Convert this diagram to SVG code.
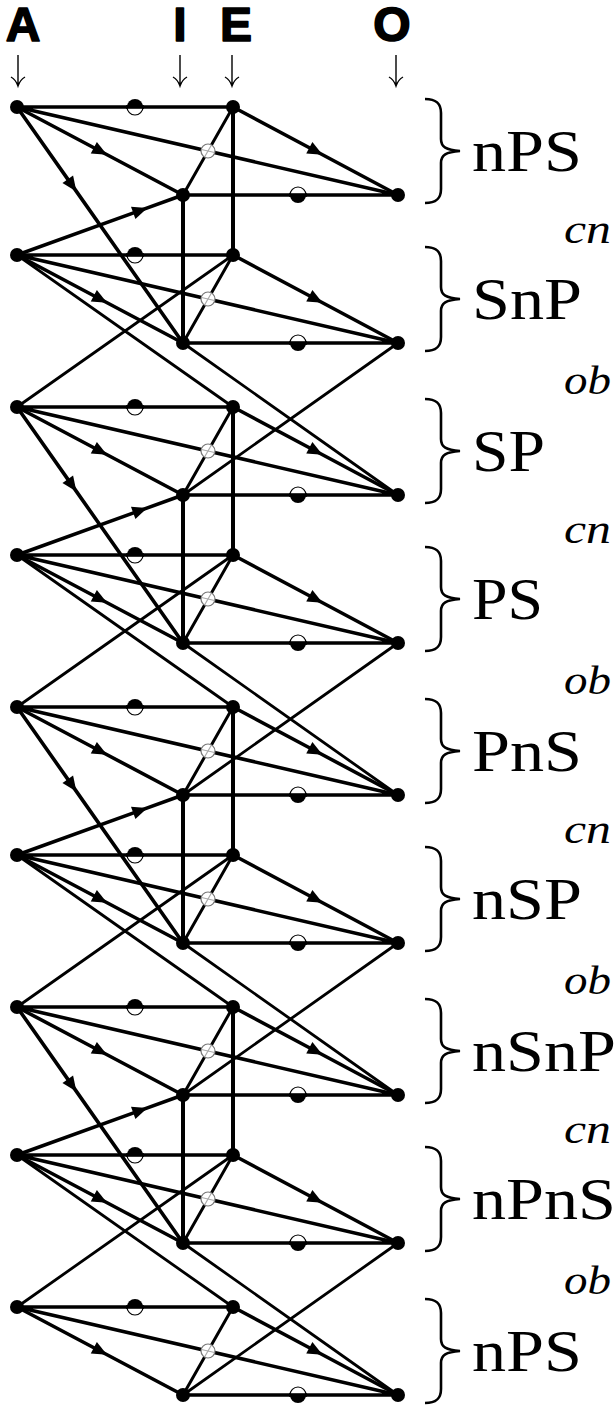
<svg xmlns="http://www.w3.org/2000/svg" width="616" height="1405" viewBox="0 0 616 1405">
<style>
.ln{stroke:#000;stroke-width:3.6;fill:none;stroke-linecap:round}
.ei{stroke:#000;stroke-width:3;fill:none;stroke-linecap:round}
.vt{stroke:#000;stroke-width:4;fill:none}
.ob{stroke:#000;stroke-width:2.8;fill:none;stroke-linecap:round}
.arr{marker-mid:url(#ah)}
.nd{fill:#000}
.hd{font-family:"Liberation Sans",Arial,sans-serif;font-weight:bold;font-size:48px;text-anchor:middle;fill:#000;stroke:#000;stroke-width:1.6;stroke-linejoin:round}
.dn{stroke:#000;stroke-width:1.4;fill:none}
.br{stroke:#000;stroke-width:2.6;fill:none}
.lb{font-family:"Liberation Serif","Times New Roman",serif;font-size:60px;fill:#000}
.it{font-family:"Liberation Serif","Times New Roman",serif;font-style:italic;font-size:40px;fill:#000}
</style>
<defs>
<marker id="ah" markerUnits="userSpaceOnUse" markerWidth="24" markerHeight="24" viewBox="-12 -12 24 24" refX="0" refY="0" orient="auto">
<path d="M-7,-6.5 L8,0 L-7,6.5 Z" fill="#000"/>
</marker>
<g id="hTop">
<path d="M-8,0 A8,8 0 0 0 8,0 Z" fill="#fff" stroke="#000" stroke-width="1.2"/>
<path d="M-8,0 A8,8 0 0 1 8,0 Z" fill="#000"/>
<path d="M-9,0 H9" stroke="#000" stroke-width="3.6"/>
</g>
<g id="hBot">
<path d="M-8,0 A8,8 0 0 1 8,0 Z" fill="#fff" stroke="#000" stroke-width="1.2"/>
<path d="M-8,0 A8,8 0 0 0 8,0 Z" fill="#000"/>
<path d="M-9,0 H9" stroke="#000" stroke-width="3.6"/>
</g>
<g id="xc">
<circle r="7" fill="#fff" stroke="#777" stroke-width="1.2"/>
<path d="M-6.5,-1.5 L6.5,1.5 M3.3,-5.8 L-3.3,5.8" stroke="#aaa" stroke-width="1.2"/>
</g>
</defs>

<g id="headers">
<text class="hd" x="23" y="41">A</text>
<text class="hd" x="180" y="41">I</text>
<text class="hd" x="236" y="41">E</text>
<text class="hd" x="392" y="41">O</text>
<path class="dn" d="M18,55 V86 M11,77 Q16,80 18,86 Q20,80 25,77"/>
<path class="dn" d="M180,55 V86 M173,77 Q178,80 180,86 Q182,80 187,77"/>
<path class="dn" d="M232,55 V86 M225,77 Q230,80 232,86 Q234,80 239,77"/>
<path class="dn" d="M396,55 V86 M389,77 Q394,80 396,86 Q398,80 403,77"/>
</g>

<g id="connectors">
<path class="vt" d="M233,107 V255 M183,195 V343"/>
<path class="ln arr" d="M17,107 L71.8,184.9 L183,343"/>
<path class="ln arr" d="M17,255 L139.8,210.6 L183,195"/>
<path class="vt" d="M233,407 V555 M183,495 V643"/>
<path class="ln arr" d="M17,407 L71.8,484.9 L183,643"/>
<path class="ln arr" d="M17,555 L139.8,510.6 L183,495"/>
<path class="vt" d="M233,707 V855 M183,795 V943"/>
<path class="ln arr" d="M17,707 L71.8,784.9 L183,943"/>
<path class="ln arr" d="M17,855 L139.8,810.6 L183,795"/>
<path class="vt" d="M233,1007 V1155 M183,1095 V1243"/>
<path class="ln arr" d="M17,1007 L71.8,1084.9 L183,1243"/>
<path class="ln arr" d="M17,1155 L139.8,1110.6 L183,1095"/>
<path class="ob" d="M17,255 L233,407 M183,343 L398,495 M17,407 L233,255 M398,343 L183,495"/>
<path class="ob" d="M17,555 L233,707 M183,643 L398,795 M17,707 L233,555 M398,643 L183,795"/>
<path class="ob" d="M17,855 L233,1007 M183,943 L398,1095 M17,1007 L233,855 M398,943 L183,1095"/>
<path class="ob" d="M17,1155 L233,1307 M183,1243 L398,1395 M17,1307 L233,1155 M398,1243 L183,1395"/>
<path class="ln" d="M17,107 H233 M183,195 H398 M17,107 L398,195"/><path class="ei" d="M233,107 L183,195"/>
<path class="ln arr" d="M17,107 L100,151 L183,195"/><path class="ln arr" d="M233,107 L315.5,151 L398,195"/>
<path class="ln" d="M17,255 H233 M183,343 H398 M17,255 L398,343"/><path class="ei" d="M233,255 L183,343"/>
<path class="ln arr" d="M17,255 L100,299 L183,343"/><path class="ln arr" d="M233,255 L315.5,299 L398,343"/>
<path class="ln" d="M17,407 H233 M183,495 H398 M17,407 L398,495"/><path class="ei" d="M233,407 L183,495"/>
<path class="ln arr" d="M17,407 L100,451 L183,495"/><path class="ln arr" d="M233,407 L315.5,451 L398,495"/>
<path class="ln" d="M17,555 H233 M183,643 H398 M17,555 L398,643"/><path class="ei" d="M233,555 L183,643"/>
<path class="ln arr" d="M17,555 L100,599 L183,643"/><path class="ln arr" d="M233,555 L315.5,599 L398,643"/>
<path class="ln" d="M17,707 H233 M183,795 H398 M17,707 L398,795"/><path class="ei" d="M233,707 L183,795"/>
<path class="ln arr" d="M17,707 L100,751 L183,795"/><path class="ln arr" d="M233,707 L315.5,751 L398,795"/>
<path class="ln" d="M17,855 H233 M183,943 H398 M17,855 L398,943"/><path class="ei" d="M233,855 L183,943"/>
<path class="ln arr" d="M17,855 L100,899 L183,943"/><path class="ln arr" d="M233,855 L315.5,899 L398,943"/>
<path class="ln" d="M17,1007 H233 M183,1095 H398 M17,1007 L398,1095"/><path class="ei" d="M233,1007 L183,1095"/>
<path class="ln arr" d="M17,1007 L100,1051 L183,1095"/><path class="ln arr" d="M233,1007 L315.5,1051 L398,1095"/>
<path class="ln" d="M17,1155 H233 M183,1243 H398 M17,1155 L398,1243"/><path class="ei" d="M233,1155 L183,1243"/>
<path class="ln arr" d="M17,1155 L100,1199 L183,1243"/><path class="ln arr" d="M233,1155 L315.5,1199 L398,1243"/>
<path class="ln" d="M17,1307 H233 M183,1395 H398 M17,1307 L398,1395"/><path class="ei" d="M233,1307 L183,1395"/>
<path class="ln arr" d="M17,1307 L100,1351 L183,1395"/><path class="ln arr" d="M233,1307 L315.5,1351 L398,1395"/>
</g>

<g id="edge-markers">
<use href="#hTop" x="135" y="107"/><use href="#hBot" x="298" y="195"/><use href="#xc" x="208" y="151"/>
<use href="#hTop" x="135" y="255"/><use href="#hBot" x="298" y="343"/><use href="#xc" x="208" y="299"/>
<use href="#hTop" x="135" y="407"/><use href="#hBot" x="298" y="495"/><use href="#xc" x="208" y="451"/>
<use href="#hTop" x="135" y="555"/><use href="#hBot" x="298" y="643"/><use href="#xc" x="208" y="599"/>
<use href="#hTop" x="135" y="707"/><use href="#hBot" x="298" y="795"/><use href="#xc" x="208" y="751"/>
<use href="#hTop" x="135" y="855"/><use href="#hBot" x="298" y="943"/><use href="#xc" x="208" y="899"/>
<use href="#hTop" x="135" y="1007"/><use href="#hBot" x="298" y="1095"/><use href="#xc" x="208" y="1051"/>
<use href="#hTop" x="135" y="1155"/><use href="#hBot" x="298" y="1243"/><use href="#xc" x="208" y="1199"/>
<use href="#hTop" x="135" y="1307"/><use href="#hBot" x="298" y="1395"/><use href="#xc" x="208" y="1351"/>
</g>

<g id="node-A1"><circle class="nd" cx="17" cy="107" r="7"/></g>
<g id="node-E1"><circle class="nd" cx="233" cy="107" r="7"/></g>
<g id="node-I1"><circle class="nd" cx="183" cy="195" r="7"/></g>
<g id="node-O1"><circle class="nd" cx="398" cy="195" r="7"/></g>
<g id="node-A2"><circle class="nd" cx="17" cy="255" r="7"/></g>
<g id="node-E2"><circle class="nd" cx="233" cy="255" r="7"/></g>
<g id="node-I2"><circle class="nd" cx="183" cy="343" r="7"/></g>
<g id="node-O2"><circle class="nd" cx="398" cy="343" r="7"/></g>
<g id="node-A3"><circle class="nd" cx="17" cy="407" r="7"/></g>
<g id="node-E3"><circle class="nd" cx="233" cy="407" r="7"/></g>
<g id="node-I3"><circle class="nd" cx="183" cy="495" r="7"/></g>
<g id="node-O3"><circle class="nd" cx="398" cy="495" r="7"/></g>
<g id="node-A4"><circle class="nd" cx="17" cy="555" r="7"/></g>
<g id="node-E4"><circle class="nd" cx="233" cy="555" r="7"/></g>
<g id="node-I4"><circle class="nd" cx="183" cy="643" r="7"/></g>
<g id="node-O4"><circle class="nd" cx="398" cy="643" r="7"/></g>
<g id="node-A5"><circle class="nd" cx="17" cy="707" r="7"/></g>
<g id="node-E5"><circle class="nd" cx="233" cy="707" r="7"/></g>
<g id="node-I5"><circle class="nd" cx="183" cy="795" r="7"/></g>
<g id="node-O5"><circle class="nd" cx="398" cy="795" r="7"/></g>
<g id="node-A6"><circle class="nd" cx="17" cy="855" r="7"/></g>
<g id="node-E6"><circle class="nd" cx="233" cy="855" r="7"/></g>
<g id="node-I6"><circle class="nd" cx="183" cy="943" r="7"/></g>
<g id="node-O6"><circle class="nd" cx="398" cy="943" r="7"/></g>
<g id="node-A7"><circle class="nd" cx="17" cy="1007" r="7"/></g>
<g id="node-E7"><circle class="nd" cx="233" cy="1007" r="7"/></g>
<g id="node-I7"><circle class="nd" cx="183" cy="1095" r="7"/></g>
<g id="node-O7"><circle class="nd" cx="398" cy="1095" r="7"/></g>
<g id="node-A8"><circle class="nd" cx="17" cy="1155" r="7"/></g>
<g id="node-E8"><circle class="nd" cx="233" cy="1155" r="7"/></g>
<g id="node-I8"><circle class="nd" cx="183" cy="1243" r="7"/></g>
<g id="node-O8"><circle class="nd" cx="398" cy="1243" r="7"/></g>
<g id="node-A9"><circle class="nd" cx="17" cy="1307" r="7"/></g>
<g id="node-E9"><circle class="nd" cx="233" cy="1307" r="7"/></g>
<g id="node-I9"><circle class="nd" cx="183" cy="1395" r="7"/></g>
<g id="node-O9"><circle class="nd" cx="398" cy="1395" r="7"/></g>

<g id="label-1"><path class="br" d="M425,99 C436,99 441,103 441,113 L441,139 C441,147 446,150 460,151 C446,152 441,155 441,163 L441,189 C441,199 436,203 425,203"/><text class="lb" x="472" y="171" textLength="110" lengthAdjust="spacingAndGlyphs">nPS</text></g>
<g id="rel-1"><text class="it" x="564" y="243" textLength="47" lengthAdjust="spacingAndGlyphs">cn</text></g>
<g id="label-2"><path class="br" d="M425,247 C436,247 441,251 441,261 L441,287 C441,295 446,298 460,299 C446,300 441,303 441,311 L441,337 C441,347 436,351 425,351"/><text class="lb" x="472" y="319" textLength="110" lengthAdjust="spacingAndGlyphs">SnP</text></g>
<g id="rel-2"><text class="it" x="564" y="394" textLength="47" lengthAdjust="spacingAndGlyphs">ob</text></g>
<g id="label-3"><path class="br" d="M425,399 C436,399 441,403 441,413 L441,439 C441,447 446,450 460,451 C446,452 441,455 441,463 L441,489 C441,499 436,503 425,503"/><text class="lb" x="472" y="471" textLength="73" lengthAdjust="spacingAndGlyphs">SP</text></g>
<g id="rel-3"><text class="it" x="564" y="543" textLength="47" lengthAdjust="spacingAndGlyphs">cn</text></g>
<g id="label-4"><path class="br" d="M425,547 C436,547 441,551 441,561 L441,587 C441,595 446,598 460,599 C446,600 441,603 441,611 L441,637 C441,647 436,651 425,651"/><text class="lb" x="472" y="619" textLength="71" lengthAdjust="spacingAndGlyphs">PS</text></g>
<g id="rel-4"><text class="it" x="564" y="694" textLength="47" lengthAdjust="spacingAndGlyphs">ob</text></g>
<g id="label-5"><path class="br" d="M425,699 C436,699 441,703 441,713 L441,739 C441,747 446,750 460,751 C446,752 441,755 441,763 L441,789 C441,799 436,803 425,803"/><text class="lb" x="472" y="771" textLength="110" lengthAdjust="spacingAndGlyphs">PnS</text></g>
<g id="rel-5"><text class="it" x="564" y="843" textLength="47" lengthAdjust="spacingAndGlyphs">cn</text></g>
<g id="label-6"><path class="br" d="M425,847 C436,847 441,851 441,861 L441,887 C441,895 446,898 460,899 C446,900 441,903 441,911 L441,937 C441,947 436,951 425,951"/><text class="lb" x="472" y="919" textLength="110" lengthAdjust="spacingAndGlyphs">nSP</text></g>
<g id="rel-6"><text class="it" x="564" y="994" textLength="47" lengthAdjust="spacingAndGlyphs">ob</text></g>
<g id="label-7"><path class="br" d="M425,999 C436,999 441,1003 441,1013 L441,1039 C441,1047 446,1050 460,1051 C446,1052 441,1055 441,1063 L441,1089 C441,1099 436,1103 425,1103"/><text class="lb" x="472" y="1071" textLength="144" lengthAdjust="spacingAndGlyphs">nSnP</text></g>
<g id="rel-7"><text class="it" x="564" y="1143" textLength="47" lengthAdjust="spacingAndGlyphs">cn</text></g>
<g id="label-8"><path class="br" d="M425,1147 C436,1147 441,1151 441,1161 L441,1187 C441,1195 446,1198 460,1199 C446,1200 441,1203 441,1211 L441,1237 C441,1247 436,1251 425,1251"/><text class="lb" x="472" y="1219" textLength="144" lengthAdjust="spacingAndGlyphs">nPnS</text></g>
<g id="rel-8"><text class="it" x="564" y="1294" textLength="47" lengthAdjust="spacingAndGlyphs">ob</text></g>
<g id="label-9"><path class="br" d="M425,1299 C436,1299 441,1303 441,1313 L441,1339 C441,1347 446,1350 460,1351 C446,1352 441,1355 441,1363 L441,1389 C441,1399 436,1403 425,1403"/><text class="lb" x="472" y="1371" textLength="110" lengthAdjust="spacingAndGlyphs">nPS</text></g>
</svg>
